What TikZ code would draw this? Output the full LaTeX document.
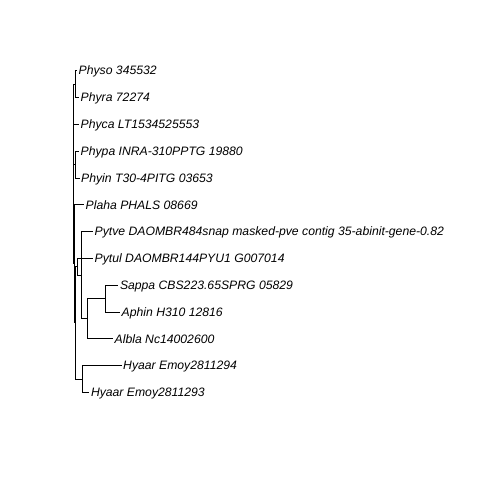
\documentclass[tikz,border=0pt]{standalone}
\usepackage{fontspec}
\setmainfont{Liberation Sans}
\begin{document}
\begin{tikzpicture}[x=1bp,y=-1bp,
  edge/.style={line width=0.75bp,black},
  lab/.style={anchor=west,inner xsep=1.5bp,inner ysep=0pt,text height=8.6bp,text depth=0pt,
    font=\fontsize{12.2bp}{14bp}\selectfont\itshape}]
\useasboundingbox (0,0) rectangle (480,480);
% internal nodes
\coordinate (R) at (73.3,173.9);
\coordinate (A) at (75.3,84.1);
\coordinate (B) at (75.3,164.5);
\coordinate (W) at (74.3,263.75);
\coordinate (X) at (75.3,322.8);
\coordinate (Y) at (77,266.7);
\coordinate (Z) at (81.5,275.05);
\coordinate (D) at (87,318.6);
\coordinate (C) at (105,298.5);
\coordinate (H) at (82,378.9);
% tips
\coordinate (t1) at (77,70.7);
\coordinate (t2) at (79,97.5);
\coordinate (t3) at (79,124.3);
\coordinate (t4) at (79,151.1);
\coordinate (t5) at (79.5,177.9);
\coordinate (t6) at (84,204.7);
\coordinate (t7) at (93,231.5);
\coordinate (t8) at (93,258.3);
\coordinate (t9) at (118.3,285.1);
\coordinate (t10) at (120,311.9);
\coordinate (t11) at (113,338.7);
\coordinate (t12) at (121.5,365.5);
\coordinate (t13) at (89.3,392.3);
% edges
\draw[edge] (R) |- (A);
\draw[edge] (R) |- (t3);
\draw[edge] (R) |- (B);
\draw[edge] (R) |- (W);
\draw[edge] (A) |- (t1);
\draw[edge] (A) |- (t2);
\draw[edge] (B) |- (t4);
\draw[edge] (B) |- (t5);
\draw[edge] (W) |- (t6);
\draw[edge] (W) |- (X);
\draw[edge] (X) |- (Y);
\draw[edge] (X) |- (H);
\draw[edge] (Y) |- (t8);
\draw[edge] (Y) |- (Z);
\draw[edge] (Z) |- (t7);
\draw[edge] (Z) |- (D);
\draw[edge] (D) |- (C);
\draw[edge] (D) |- (t11);
\draw[edge] (C) |- (t9);
\draw[edge] (C) |- (t10);
\draw[edge] (H) |- (t12);
\draw[edge] (H) |- (t13);
% labels
\node[lab] (l1) at (t1) {Physo 345532};
\node[lab] (l2) at (t2) {Phyra 72274};
\node[lab] (l3) at (t3) {Phyca LT1534525553};
\node[lab] (l4) at (t4) {Phypa INRA-310PPTG 19880};
\node[lab] (l5) at (t5) {Phyin T30-4PITG 03653};
\node[lab] (l6) at (t6) {Plaha PHALS 08669};
\node[lab] (l7) at (t7) {Pytve DAOMBR484snap masked-pve contig 35-abinit-gene-0.82};
\node[lab] (l8) at (t8) {Pytul DAOMBR144PYU1 G007014};
\node[lab] (l9) at (t9) {Sappa CBS223.65SPRG 05829};
\node[lab] (l10) at (t10) {Aphin H310 12816};
\node[lab] (l11) at (t11) {Albla Nc14002600};
\node[lab] (l12) at (t12) {Hyaar Emoy2811294};
\node[lab] (l13) at (t13) {Hyaar Emoy2811293};
\end{tikzpicture}
\end{document}
